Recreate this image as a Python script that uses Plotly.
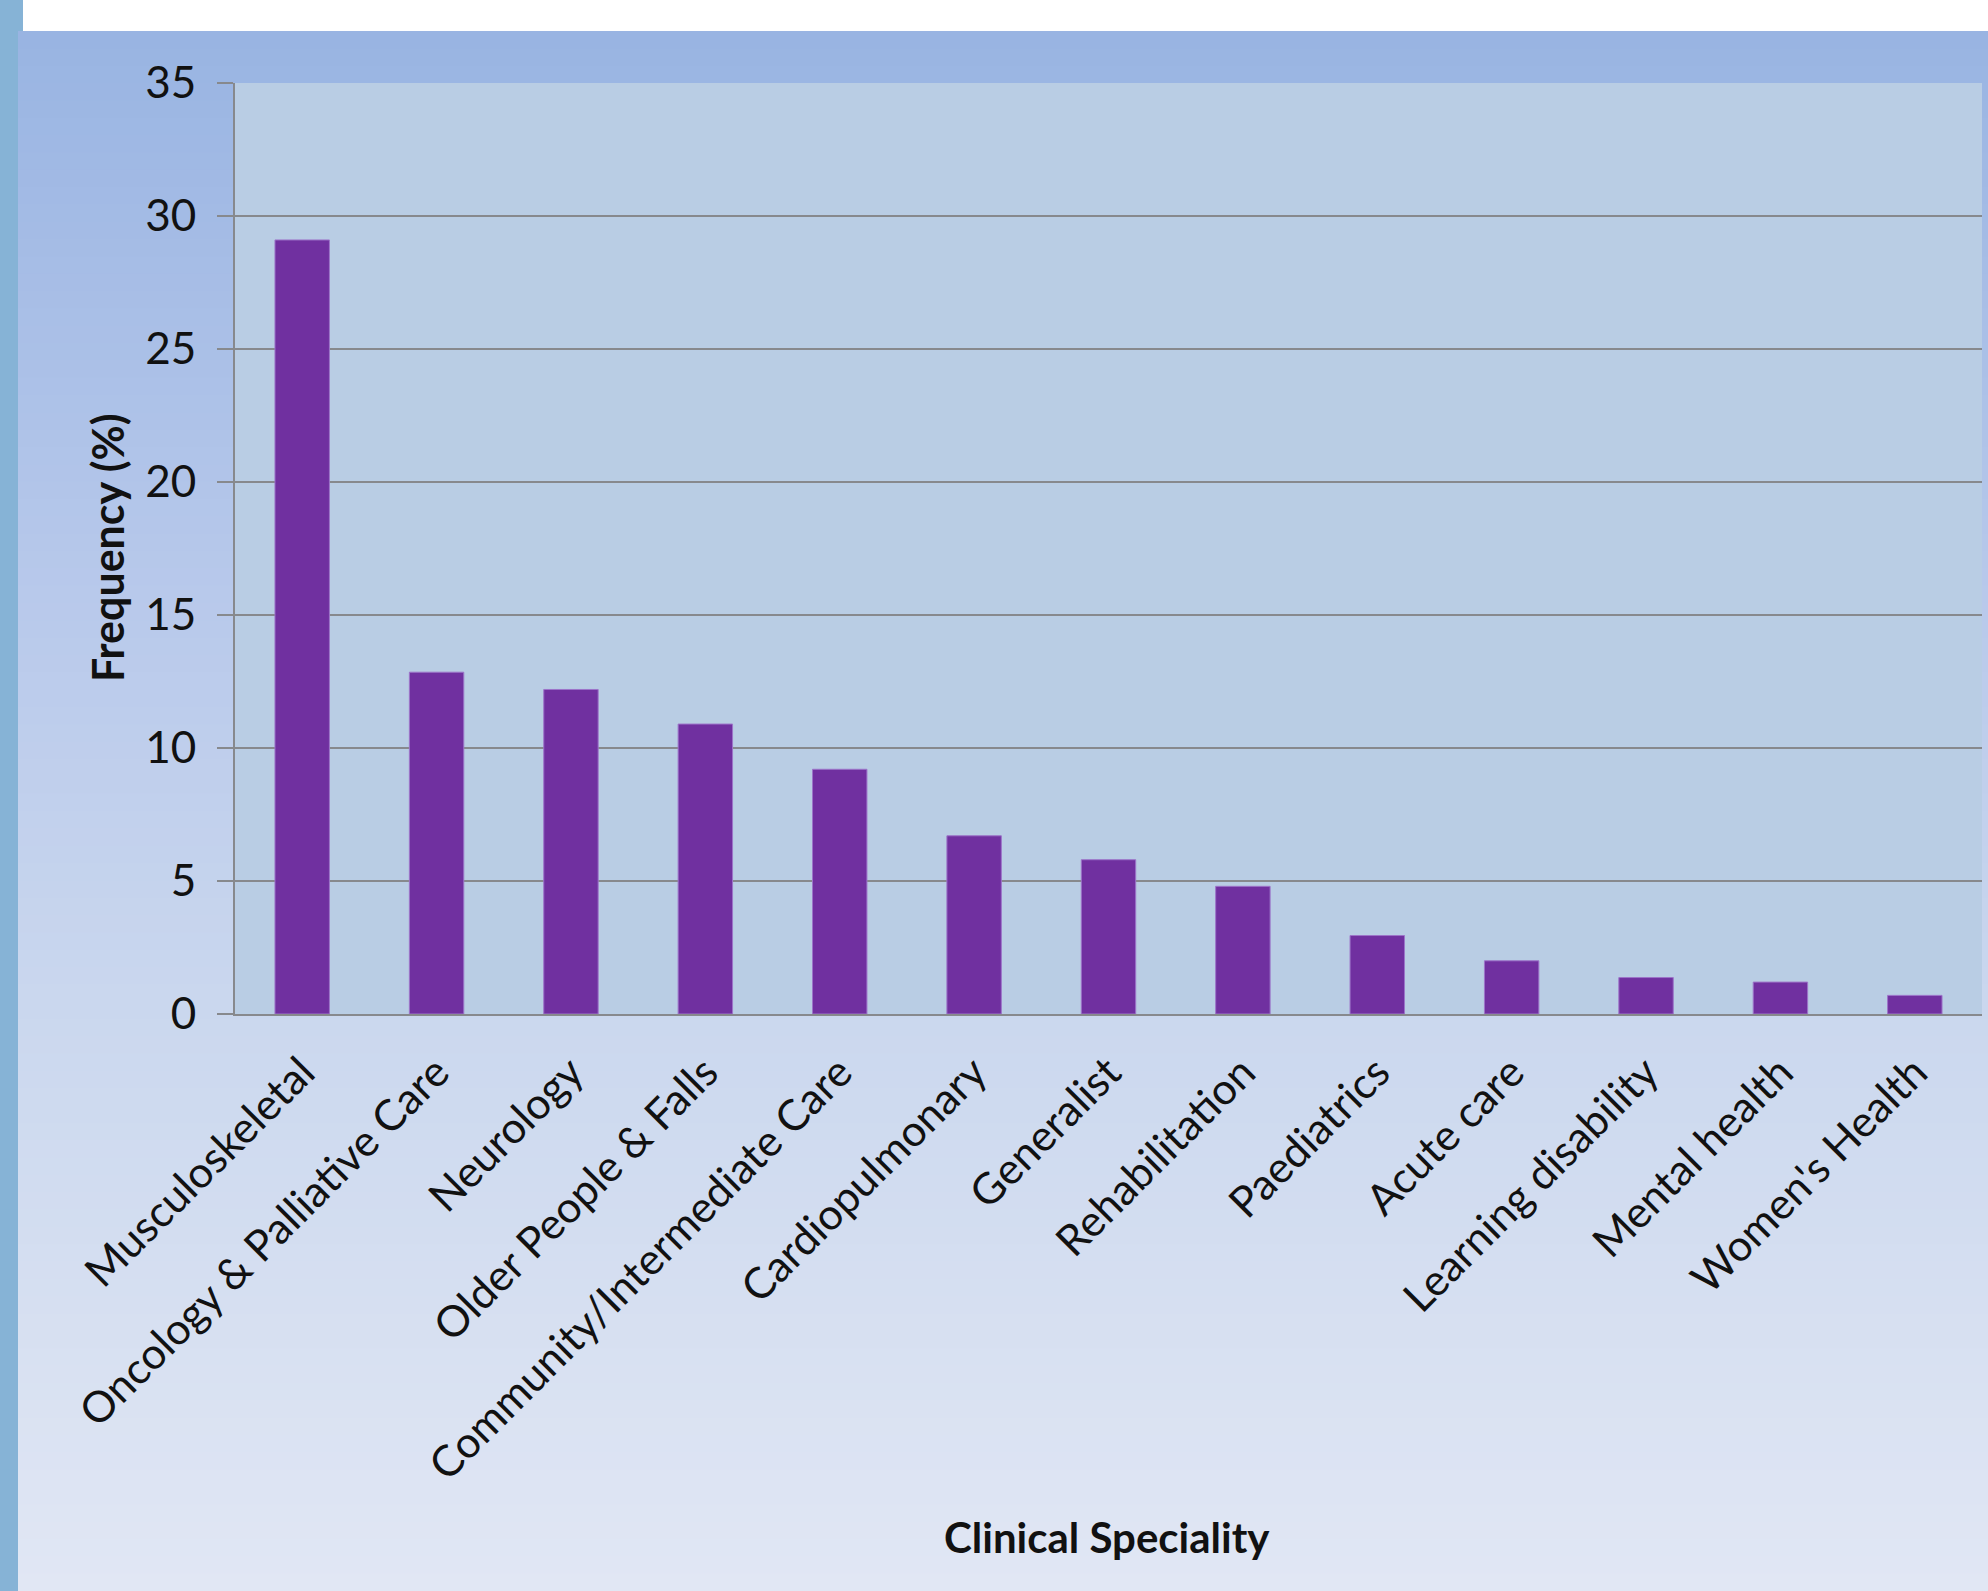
import plotly.graph_objects as go

categories = ["Musculoskeletal", "Oncology & Palliative Care", "Neurology",
              "Older People & Falls", "Community/Intermediate Care", "Cardiopulmonary",
              "Generalist", "Rehabilitation", "Paediatrics", "Acute care",
              "Learning disability", "Mental health", "Women's Health"]
frequency = [29.1, 12.85, 12.2, 10.9, 9.2, 6.7, 5.8, 4.8, 2.95, 2.0, 1.37, 1.2, 0.7]
y_ticks = [0, 5, 10, 15, 20, 25, 30, 35]

W, H = 1988, 1591
L, R, T, B = 235, 1982, 83, 1014
pw, ph = R - L, B - T

def px(X):
    return (X - L) / pw

def py(Y):
    return (B - Y) / ph

def lerp(c1, c2, t):
    return tuple(round(a + (b - a) * t) for a, b in zip(c1, c2))

stops = [(31, (0x99, 0xb4, 0xe2)), (600, (0xb8, 0xc9, 0xeb)),
         (1000, (0xca, 0xd7, 0xee)), (1591, (0xe1, 0xe7, 0xf4))]

def grad(Y):
    for (y1, c1), (y2, c2) in zip(stops[:-1], stops[1:]):
        if y1 <= Y <= y2:
            return lerp(c1, c2, (Y - y1) / (y2 - y1))
    return stops[-1][1]

shapes = []
nb = 90
top = 31
step = (H - top) / nb
for i in range(nb):
    y0 = top + i * step
    y1 = y0 + step + 1
    c = grad(y0 + step / 2)
    shapes.append(dict(type="rect", xref="paper", yref="paper", layer="below",
                       x0=px(18), x1=px(W), y0=py(y1), y1=py(y0),
                       fillcolor="rgb(%d,%d,%d)" % c, line=dict(width=0)))
# left strip
shapes.append(dict(type="rect", xref="paper", yref="paper", layer="below",
                   x0=px(0), x1=px(18), y0=py(H), y1=py(0),
                   fillcolor="#86b3d6", line=dict(width=0)))
shapes.append(dict(type="rect", xref="paper", yref="paper", layer="below",
                   x0=px(0), x1=px(23), y0=py(31), y1=py(0),
                   fillcolor="#86b3d6", line=dict(width=0)))
# plot area
shapes.append(dict(type="rect", xref="paper", yref="paper", layer="below",
                   x0=0, x1=1, y0=0, y1=1,
                   fillcolor="#b9cde4", line=dict(width=0)))

fig = go.Figure(go.Bar(
    x=categories, y=frequency,
    marker=dict(color="#7030a0", line=dict(color="#9d74c9", width=1)),
    width=0.405,
))

FONT = "Lato"
fig.update_layout(
    width=W, height=H,
    margin=dict(l=L, r=W - R, t=T, b=H - B),
    paper_bgcolor="white",
    plot_bgcolor="rgba(0,0,0,0)",
    shapes=shapes,
    showlegend=False,
    font=dict(family=FONT, color="#111111"),
    xaxis=dict(
        tickangle=-45, ticks="", showgrid=False,
        showline=True, linecolor="#87898d", linewidth=2,
        tickfont=dict(family=FONT, size=43, color="#111111"),
        ticklabelstandoff=14,
        range=[-0.5, len(categories) - 0.5],
    ),
    yaxis=dict(
        range=[0, 35], tickvals=y_ticks,
        showgrid=True, gridcolor="#87898d", gridwidth=2,
        showline=True, linecolor="#87898d", linewidth=2,
        ticks="outside", ticklen=16, tickcolor="#87898d", tickwidth=2,
        tickfont=dict(family=FONT, size=44, color="#111111"),
        ticklabelstandoff=12,
        zeroline=False,
    ),
    annotations=[
        dict(text="<b>Clinical Speciality</b>", xref="paper", yref="paper",
             x=px(1107), y=py(1537), showarrow=False,
             font=dict(family=FONT, size=42, color="#111111"),
             xanchor="center", yanchor="middle"),
        dict(text="<b>Frequency (%)</b>", xref="paper", yref="paper",
             x=px(107), y=py(548), showarrow=False, textangle=-90,
             font=dict(family=FONT, size=43, color="#111111"),
             xanchor="center", yanchor="middle"),
    ],
)

fig.write_html("out.html")
